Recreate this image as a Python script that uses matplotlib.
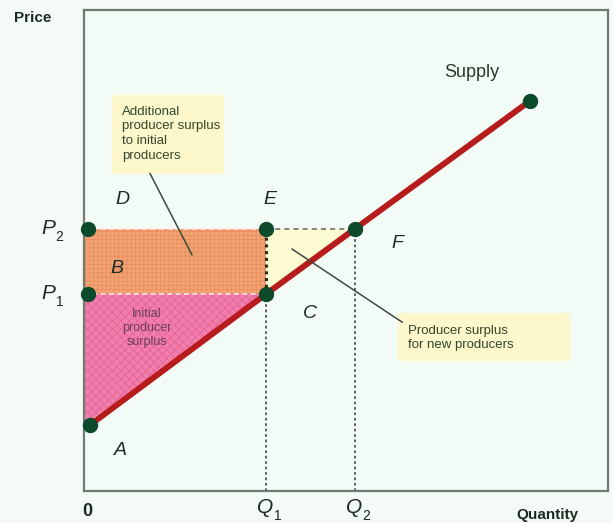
import matplotlib.pyplot as plt
from matplotlib.patches import Polygon, Rectangle

plt.rcParams['font.family'] = ['Liberation Sans', 'DejaVu Sans']
plt.rcParams['hatch.linewidth'] = 0.6

# supply curve points: A, C, F and the top end
supply_q = [0.11, 3.48, 5.17, 8.51]
supply_p = [1.37, 4.10, 5.45, 8.11]
Q1, Q2 = 3.48, 5.17
P1, P2 = 4.10, 5.45
A_q, A_p = 0.11, 1.37

bg = '#f4fbf6'
ink = '#1d2a22'
fig = plt.figure(figsize=(6.13, 5.23), dpi=100, facecolor=bg)
ax = fig.add_axes([0.137, 0.0612, 0.855, 0.9197])
ax.set_facecolor('#f2fbf5')
ax.set_xlim(0, 10)
ax.set_ylim(0, 10)
ax.set_xticks([])
ax.set_yticks([])
for s in ax.spines.values():
    s.set_color('#6f7a70')
    s.set_linewidth(1.6)

# initial producer surplus (triangle below P1)
ax.add_patch(Polygon([(0, A_p), (0, P1), (Q1, P1)], closed=True,
                     facecolor='#f37dab', edgecolor='#e2659a', hatch='xxxx', lw=0, zorder=1))
# additional surplus for initial producers (rectangle B)
ax.add_patch(Rectangle((0, P1), Q1, P2 - P1, facecolor='#f2a474', edgecolor='#e88e5e',
                       hatch='++++', lw=0, zorder=1))
# surplus for new producers (triangle ECF)
ax.add_patch(Polygon([(Q1, P2), (Q2, P2), (Q1, P1)], closed=True,
                     facecolor='#fdfbd2', lw=0, zorder=1))

# light dashed edges of rectangle B
ax.plot([0, Q1], [P2, P2], color='#fbe6d8', lw=1.2, ls=(0, (3, 2)), zorder=2)
ax.plot([0, Q1], [P1, P1], color='#fbe6e8', lw=1.2, ls=(0, (3, 2)), zorder=2)
ax.plot([Q1, Q1], [P1, P2], color='#2a2a1e', lw=2.2, ls=(0, (1, 1.2)), zorder=2)

# guide lines
ax.plot([Q1, Q2], [P2, P2], color='#707070', lw=1.2, ls=(0, (3, 2.5)), zorder=2)
ax.plot([Q1, Q1], [0, P1], color='#555555', lw=1.3, ls=(0, (1.5, 1.5)), zorder=2)
ax.plot([Q2, Q2], [0, P2], color='#555555', lw=1.3, ls=(0, (1.5, 1.5)), zorder=2)

# supply curve
ax.plot(supply_q, supply_p, color='#b71c1c', lw=4.3, solid_capstyle='round', zorder=3)

# points
dot_q = [0.08, 0.08, Q1, Q1, Q2, A_q, supply_q[-1]]
dot_p = [P2, P1, P2, P1, P2, A_p, supply_p[-1]]
ax.plot(dot_q, dot_p, 'o', color='#0b4a2a', ms=10, zorder=4, clip_on=False)

lab = dict(fontsize=14, style='italic', color=ink)
ax.text(0.74, 6.05, 'D', ha='center', va='center', **lab)
ax.text(3.55, 6.05, 'E', ha='center', va='center', **lab)
ax.text(0.63, 4.62, 'B', ha='center', va='center', **lab)
ax.text(4.31, 3.70, 'C', ha='center', va='center', **lab)
ax.text(5.97, 5.14, 'F', ha='center', va='center', **lab)
ax.text(0.69, 0.85, 'A', ha='center', va='center', **lab)


def sub_label(x, y, letter, idx):
    # italic letter with a small upright subscript to its lower right
    ax.text(x, y, letter, ha='right', va='center', fontsize=15, style='italic',
            color=ink, clip_on=False)
    ax.text(x + 0.01, y - 0.17, idx, ha='left', va='center', fontsize=10,
            color=ink, clip_on=False)


sub_label(-0.55, P2, 'P', '2')
sub_label(-0.55, P1, 'P', '1')
sub_label(Q1 + 0.13, -0.34, 'Q', '1')
sub_label(Q2 + 0.13, -0.34, 'Q', '2')

ax.text(0.06, -0.42, '0', ha='center', va='center', fontsize=13, fontweight='bold', color=ink)
ax.text(-0.97, 9.83, 'Price', ha='center', va='center', fontsize=11, fontweight='bold', color=ink)
ax.text(8.85, -0.50, 'Quantity', ha='center', va='center', fontsize=11, fontweight='bold', color=ink)
ax.text(7.40, 8.71, 'Supply', ha='center', va='center', fontsize=13, color='#283a2e')

ax.text(1.20, 3.39, 'Initial\nproducer\nsurplus', ha='center', va='center', fontsize=9,
        color='#6a3f5f', linespacing=1.2, zorder=3)

# callout boxes
ax.add_patch(Rectangle((0.53, 6.60), 2.15, 1.63, facecolor='#fdf7cc', lw=0, zorder=2))
ax.text(0.73, 7.43, 'Additional\nproducer surplus\nto initial\nproducers', ha='left', va='center',
        fontsize=9.5, color='#34462c', linespacing=1.3, zorder=3)
ax.plot([1.26, 2.06], [6.60, 4.91], color='#3d4a40', lw=1.1, zorder=3)

ax.add_patch(Rectangle((5.99, 2.70), 3.28, 1.00, facecolor='#fdf7cc', lw=0, zorder=2))
ax.text(6.18, 3.18, 'Producer surplus\nfor new producers', ha='left', va='center',
        fontsize=9.5, color='#34462c', linespacing=1.3, zorder=3)
ax.plot([3.97, 6.07], [5.03, 3.51], color='#3d4a40', lw=1.1, zorder=3)

fig.savefig('out.png', dpi=100, facecolor=bg)
